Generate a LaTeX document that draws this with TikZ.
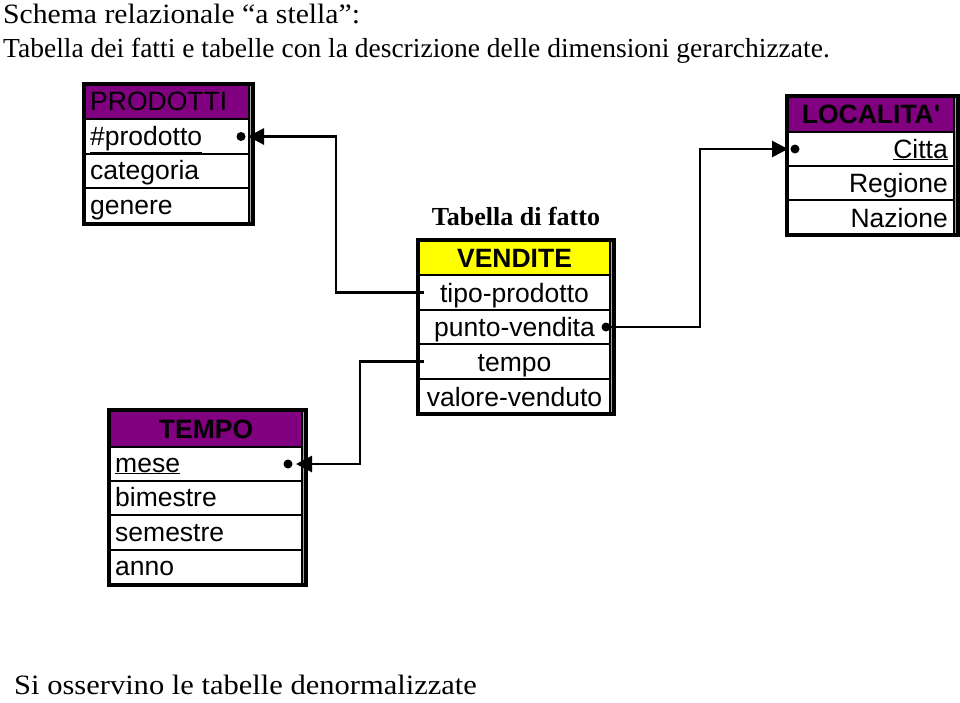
\documentclass[tikz,border=0pt]{standalone}
\usepackage{fontspec}
\setmainfont{Liberation Serif}
\newfontfamily\arialf{Liberation Sans}
\usetikzlibrary{arrows.meta,calc}
\definecolor{hdrpurple}{RGB}{128,0,128}
\definecolor{hdryellow}{RGB}{255,255,0}
\definecolor{edgegray}{RGB}{165,165,165}
\begin{document}
\begin{tikzpicture}[x=1pt,y=-1pt,
  rowbox/.style={draw=black, line width=1.3pt, anchor=north west, inner sep=0pt, outer sep=0pt},
  hdrbox/.style={rowbox, fill=hdrpurple},
  frame/.style={draw=black, line width=3.2pt},
  cell/.style={font=\arialf\fontsize{26.5}{30}\selectfont, inner sep=0pt, text=black},
  hcell/.style={cell, font=\arialf\bfseries\fontsize{26.5}{30}\selectfont},
  serif/.style={inner sep=0pt, anchor=base west},
  conn/.style={draw=black, line width=2.8pt, -{Triangle[length=16pt,width=16pt]}},
  keydot/.style={circle, fill=black, inner sep=0pt, minimum size=9pt}
]
\useasboundingbox (0,0) rectangle (960,702);

% titles
\node[serif, font=\fontsize{28}{32}\selectfont] (t1) at (3,23) {\scalebox{1.06}[1]{Schema relazionale “a stella”:}};
\node[serif, font=\fontsize{27.5}{32}\selectfont] (t2) at (3,57) {Tabella dei fatti e tabelle con la descrizione delle dimensioni gerarchizzate.};
\node[serif, font=\fontsize{28}{32}\selectfont] (foot) at (14,694) {\scalebox{1.09}[1]{Si osservino le tabelle denormalizzate}};

% ---------- PRODOTTI ----------
\fill[edgegray] (249,85) rectangle (253,224);
\node[hdrbox, minimum width=164pt, minimum height=35pt] (phdr) at (85,84) {};
\node[rowbox, minimum width=164pt, minimum height=35pt] (pprod) at (85,119) {};
\node[rowbox, minimum width=164pt, minimum height=34pt] (pcat) at (85,154) {};
\node[rowbox, minimum width=164pt, minimum height=35pt] (pgen) at (85,188) {};
\draw[frame] (84,84) rectangle (253,224);
\node[cell, anchor=base west] at ([xshift=5pt,yshift=9pt]phdr.south west) {PRODOTTI};
\node[cell, anchor=base west] at ([xshift=5pt,yshift=9pt]pprod.south west) {\underline{\#prodotto}};
\node[cell, anchor=base west] at ([xshift=5pt,yshift=9pt]pcat.south west) {categoria};
\node[cell, anchor=base west] at ([xshift=5pt,yshift=9pt]pgen.south west) {genere};

% ---------- TEMPO ----------
\fill[edgegray] (302,411) rectangle (306,584);
\node[hdrbox, minimum width=192pt, minimum height=37pt] (thdr) at (110,410) {};
\node[rowbox, minimum width=192pt, minimum height=34pt] (tmese) at (110,447) {};
\node[rowbox, minimum width=192pt, minimum height=34pt] (tbim) at (110,481) {};
\node[rowbox, minimum width=192pt, minimum height=35pt] (tsem) at (110,515) {};
\node[rowbox, minimum width=192pt, minimum height=34pt] (tanno) at (110,550) {};
\draw[frame] (109,410) rectangle (306,585);
\node[hcell, anchor=base] at ([yshift=9pt]thdr.south) {TEMPO};
\node[cell, anchor=base west] at ([xshift=5pt,yshift=9pt]tmese.south west) {\underline{mese}};
\node[cell, anchor=base west] at ([xshift=5pt,yshift=9pt]tbim.south west) {bimestre};
\node[cell, anchor=base west] at ([xshift=5pt,yshift=9pt]tsem.south west) {semestre};
\node[cell, anchor=base west] at ([xshift=5pt,yshift=9pt]tanno.south west) {anno};

% ---------- VENDITE ----------
\node[font=\bfseries\fontsize{26}{30}\selectfont, inner sep=0pt, anchor=base] (vlab) at (516,225) {Tabella di fatto};
\fill[edgegray] (610,241) rectangle (614,414);
\node[rowbox, fill=hdryellow, minimum width=191pt, minimum height=35pt] (vhdr) at (419,240) {};
\node[rowbox, minimum width=191pt, minimum height=35pt] (vtipo) at (419,275) {};
\node[rowbox, minimum width=191pt, minimum height=34pt] (vpunto) at (419,310) {};
\node[rowbox, minimum width=191pt, minimum height=35pt] (vtempo) at (419,344) {};
\node[rowbox, minimum width=191pt, minimum height=35pt] (vval) at (419,379) {};
\draw[frame] (418,240) rectangle (614,414);
\node[hcell, anchor=base] at ([yshift=8pt]vhdr.south) {VENDITE};
\node[cell, anchor=base] at ([yshift=8pt]vtipo.south) {tipo-prodotto};
\node[cell, anchor=base] at ([yshift=8pt]vpunto.south) {punto-vendita};
\node[cell, anchor=base] at ([yshift=8pt]vtempo.south) {tempo};
\node[cell, anchor=base] at ([yshift=8pt]vval.south) {valore-venduto};

% ---------- LOCALITA' ----------
\fill[edgegray] (954,97) rectangle (958,235);
\node[hdrbox, minimum width=166pt, minimum height=36pt] (lhdr) at (788,96) {};
\node[rowbox, minimum width=166pt, minimum height=34pt] (lcitta) at (788,132) {};
\node[rowbox, minimum width=166pt, minimum height=34pt] (lreg) at (788,166) {};
\node[rowbox, minimum width=166pt, minimum height=35pt] (lnaz) at (788,200) {};
\draw[frame] (787,96) rectangle (958,235);
\node[hcell, anchor=base] at ([yshift=9pt]lhdr.south) {LOCALITA'};
\node[cell, anchor=base east] at ([xshift=-6pt,yshift=8pt]lcitta.south east) {\underline{Citta}};
\node[cell, anchor=base east] at ([xshift=-6pt,yshift=8pt]lreg.south east) {Regione};
\node[cell, anchor=base east] at ([xshift=-6pt,yshift=8pt]lnaz.south east) {Nazione};

% ---------- connectors ----------
\draw[conn] ([xshift=5pt]vtipo.west) -- ++(-88,0) |- ([xshift=-1pt]pprod.east);
\node[keydot] at ([xshift=-8pt]pprod.east) {};

\draw[conn] ([xshift=5pt]vtempo.west) -- ++(-64,0) |- ([xshift=-6pt]tmese.east);
\node[keydot] at ([xshift=-14pt]tmese.east) {};

\draw[conn] (vpunto.east) -- ++(90,0) |- (lcitta.west);
\node[keydot] at ([xshift=-4pt]vpunto.east) {};
\node[keydot] at ([xshift=7pt]lcitta.west) {};
\end{tikzpicture}
\end{document}
